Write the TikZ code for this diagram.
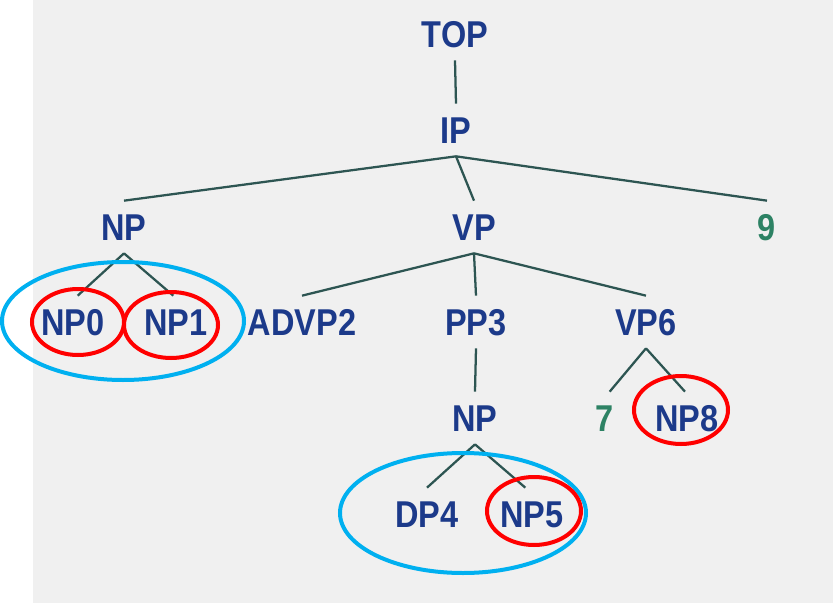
\documentclass[tikz,border=0pt]{standalone}
\usepackage{fontspec}
\newfontfamily\treefont[FakeStretch=0.87]{Liberation Sans}
\definecolor{bggray}{HTML}{F0F0F0}
\definecolor{labelblue}{RGB}{28,58,138}
\definecolor{leafgreen}{RGB}{45,130,100}
\definecolor{edgeteal}{RGB}{45,85,82}
\definecolor{ringblue}{HTML}{00B0F0}
\definecolor{ringred}{HTML}{FF0000}
\tikzset{
  lbl/.style={font=\treefont\bfseries\fontsize{28}{30}\selectfont, text=labelblue,
    text height=20pt, text depth=0pt, inner xsep=0pt, inner ysep=9.75pt, outer sep=0pt, anchor=center},
  leaf/.style={lbl, text=leafgreen},
  edge/.style={draw=edgeteal, line width=1.7pt},
  bluering/.style={draw=ringblue, line width=3pt},
  redring/.style={draw=ringred, line width=3pt}
}
\begin{document}
\begin{tikzpicture}[x=0.75pt,y=-0.75pt]
\useasboundingbox (0,0) rectangle (833,603);
\fill[bggray] (33,0) rectangle (833,603);
% nodes
\node[lbl] (top) at (455,34) {TOP};
\node[lbl] (ip) at (456,130) {IP};
\node[lbl] (np) at (124,227) {NP};
\node[lbl] (vp) at (474,227) {VP};
\node[leaf] (nine) at (767,227) {9};
\node[lbl] (np0) at (73,322) {NP0};
\node[lbl] (np1) at (176,322) {NP1};
\node[lbl] (advp2) at (302,322) {ADVP2};
\node[lbl] (pp3) at (476,322) {PP3};
\node[lbl] (vp6) at (646,322) {VP6};
\node[lbl] (npl) at (475,418) {NP};
\node[leaf] (seven) at (605,418) {7};
\node[lbl] (np8) at (687,418) {NP8};
\node[lbl] (dp4) at (427,514) {DP4};
\node[lbl] (np5) at (532,514) {NP5};
% edges
\draw[edge] (top.south) -- (ip.north);
\draw[edge] (ip.south) -- (np.north);
\draw[edge] (ip.south) -- (vp.north);
\draw[edge] (ip.south) -- (nine.north);
\draw[edge] (np.south) -- ([xshift=3.5pt]np0.north);
\draw[edge] (np.south) -- ([xshift=-2pt]np1.north);
\draw[edge] (vp.south) -- (advp2.north);
\draw[edge] (vp.south) -- (pp3.north);
\draw[edge] (vp.south) -- (vp6.north);
\draw[edge] (pp3.south) -- (npl.north);
\draw[edge] (vp6.south) -- ([xshift=3.5pt]seven.north);
\draw[edge] (vp6.south) -- ([xshift=-1.5pt]np8.north);
\draw[edge] (npl.south) -- (dp4.north);
\draw[edge] (npl.south) -- ([xshift=-5pt]np5.north);
% annotation rings
\draw[bluering] (123,321) ellipse [x radius=90.75pt, y radius=44.25pt];
\draw[redring] (78,322) ellipse [x radius=34.5pt, y radius=24.75pt];
\draw[redring] (171,325) ellipse [x radius=35.25pt, y radius=24.75pt];
\draw[bluering] (463,513) ellipse [x radius=92.25pt, y radius=45pt];
\draw[redring] (534,511) ellipse [x radius=35.25pt, y radius=25.5pt];
\draw[redring] (681,410) ellipse [x radius=35.25pt, y radius=25.5pt];
\end{tikzpicture}
\end{document}
